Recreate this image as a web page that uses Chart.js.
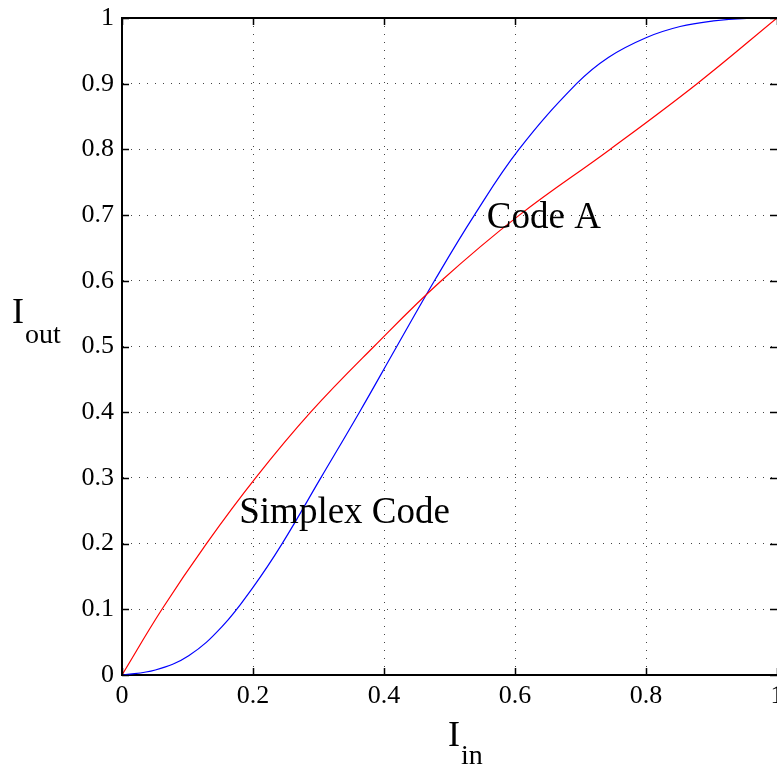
<!DOCTYPE html>
<html>
<head>
<meta charset="utf-8">
<script src="https://cdn.jsdelivr.net/npm/chart.js@4.4.1/dist/chart.umd.min.js"></script>
<style>
  html, body { margin: 0; padding: 0; background: #fff; overflow: hidden; }
  #wrap { position: absolute; left: 0; top: 0; width: 800px; height: 769px; }
</style>
</head>
<body>
<div id="wrap"><canvas id="c" width="800" height="769"></canvas></div>
<script>
// ---- data ----
const simplexX = [0, 0.061, 0.129, 0.204, 0.288, 0.3847, 0.4875, 0.6066, 0.745, 0.878, 1];
const simplexY = [0, 0.1, 0.2, 0.3, 0.4, 0.5, 0.6, 0.7, 0.8, 0.9, 1];

const codeAX = [0, 0.0509, 0.1018, 0.1527, 0.2, 0.2445, 0.3035, 0.3625, 0.4195, 0.477, 0.538, 0.606, 0.694, 0.7425, 0.8, 0.852, 0.903, 0.954, 1];
const codeAY = [0, 0.0076, 0.0294, 0.0736, 0.1335, 0.2, 0.3, 0.4, 0.5, 0.6, 0.7, 0.8, 0.9, 0.94, 0.97, 0.987, 0.9955, 0.9995, 1];

const seriesNames = ['Simplex Code', 'Code A'];
const xTickStep = 0.2;
const yTickStep = 0.1;

// ---- presentation ----
const labelSpots = [
  { text: 'Code A', x: 0.557, y: 0.68 },
  { text: 'Simplex Code', x: 0.179, y: 0.231 }
];

function pts(xs, ys) { return xs.map((x, i) => ({ x: x, y: ys[i] })); }
const serif = "'Liberation Serif', 'Times New Roman', serif";

const decorPlugin = {
  id: 'decor',
  afterDraw(chart) {
    const ctx = chart.ctx;
    const { left, right, top, bottom } = chart.chartArea;
    const xs = chart.scales.x, ys = chart.scales.y;
    ctx.save();
    // top border
    ctx.strokeStyle = '#000';
    ctx.lineWidth = 2;
    ctx.beginPath();
    ctx.moveTo(left, top);
    ctx.lineTo(right, top);
    ctx.stroke();
    // inward ticks
    ctx.lineWidth = 1.5;
    const tl = 7;
    ctx.beginPath();
    xs.ticks.forEach(t => {
      const p = Math.round(xs.getPixelForValue(t.value)) + 0.5;
      ctx.moveTo(p, bottom); ctx.lineTo(p, bottom - tl);
      ctx.moveTo(p, top); ctx.lineTo(p, top + tl);
    });
    ys.ticks.forEach(t => {
      const p = Math.round(ys.getPixelForValue(t.value)) + 0.5;
      ctx.moveTo(left, p); ctx.lineTo(left + tl, p);
      ctx.moveTo(right, p); ctx.lineTo(right - tl, p);
    });
    ctx.stroke();
    // curve labels
    ctx.fillStyle = '#000';
    ctx.textBaseline = 'alphabetic';
    ctx.textAlign = 'left';
    ctx.font = '37px ' + serif;
    labelSpots.forEach(l => {
      ctx.fillText(l.text, xs.getPixelForValue(l.x), ys.getPixelForValue(l.y));
    });
    // axis titles with subscripts
    ctx.font = '36px ' + serif;
    ctx.fillText('I', 12, 323);
    ctx.font = '28px ' + serif;
    ctx.fillText('out', 25, 343);
    ctx.font = '36px ' + serif;
    ctx.fillText('I', 448, 746);
    ctx.font = '28px ' + serif;
    ctx.fillText('in', 461, 764);
    ctx.restore();
  }
};

new Chart(document.getElementById('c'), {
  type: 'scatter',
  data: {
    datasets: [
      {
        label: seriesNames[0],
        data: pts(simplexX, simplexY),
        showLine: true,
        borderColor: '#ff0000',
        borderWidth: 1.2,
        pointRadius: 0,
        tension: 0.4,
        fill: false
      },
      {
        label: seriesNames[1],
        data: pts(codeAX, codeAY),
        showLine: true,
        borderColor: '#0000ff',
        borderWidth: 1.2,
        pointRadius: 0,
        tension: 0.4,
        fill: false
      }
    ]
  },
  options: {
    responsive: false,
    devicePixelRatio: 1,
    animation: false,
    layout: { padding: { left: 0, right: 23, top: 18, bottom: 0 } },
    plugins: {
      legend: { display: false },
      tooltip: { enabled: false }
    },
    scales: {
      x: {
        type: 'linear',
        min: 0, max: 1,
        afterFit(s) { s.height = 94; s.paddingLeft = 0; s.paddingRight = 0; },
        ticks: {
          stepSize: xTickStep,
          padding: 6,
          color: '#000',
          font: { family: serif, size: 26 },
          maxRotation: 0,
          callback: v => String(Number(v.toFixed(1)))
        },
        grid: { color: '#444', lineWidth: 1, drawTicks: false },
        border: { display: true, color: '#000', width: 2, dash: [1, 7] }
      },
      y: {
        type: 'linear',
        min: 0, max: 1,
        afterFit(s) { s.width = 122; s.paddingTop = 0; s.paddingBottom = 0; },
        ticks: {
          stepSize: yTickStep,
          padding: 8,
          color: '#000',
          font: { family: serif, size: 26 },
          callback: v => String(Number(v.toFixed(1)))
        },
        grid: { color: '#444', lineWidth: 1, drawTicks: false },
        border: { display: true, color: '#000', width: 2, dash: [1, 7] }
      }
    }
  },
  plugins: [decorPlugin]
});
</script>
</body>
</html>
